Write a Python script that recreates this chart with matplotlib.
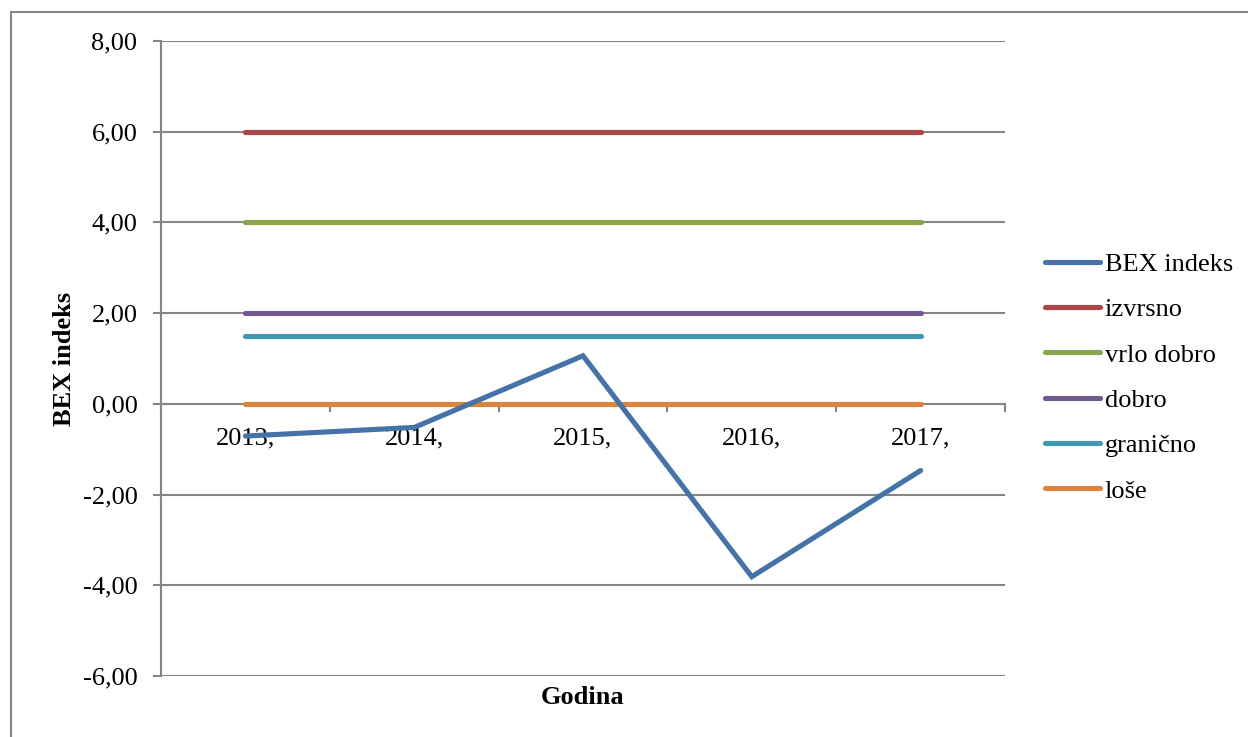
import matplotlib
matplotlib.use("Agg")
import matplotlib.pyplot as plt
from matplotlib.patches import Rectangle
import numpy as np

years = ["2013,", "2014,", "2015,", "2016,", "2017,"]
bex = [-0.71, -0.52, 1.06, -3.81, -1.47]
izvrsno = [6, 6, 6, 6, 6]
vrlo_dobro = [4, 4, 4, 4, 4]
dobro = [2, 2, 2, 2, 2]
granicno = [1.5, 1.5, 1.5, 1.5, 1.5]
lose = [0, 0, 0, 0, 0]

series = [
    ("BEX indeks", bex, "#4572A7"),
    ("izvrsno", izvrsno, "#AA4643"),
    ("vrlo dobro", vrlo_dobro, "#89A54E"),
    ("dobro", dobro, "#71588F"),
    ("granično", granicno, "#4198AF"),
    ("loše", lose, "#DB843D"),
]

plt.rcParams['font.family'] = ['Liberation Serif', 'DejaVu Serif']
FS = 19
GRAY = "#868686"
LW = 3.7

fig = plt.figure(figsize=(12.48, 7.37), dpi=100)
W, H = 1248, 737
ax = fig.add_axes([161 / W, 1 - 676 / H, (1005 - 161) / W, (676 - 41) / H])

x = np.arange(len(years))
for name, vals, col in series[1:]:
    ax.plot(x, vals, color=col, lw=LW, solid_capstyle='round', label=name, zorder=3)
ax.plot(x, bex, color=series[0][2], lw=LW, solid_capstyle='round',
        solid_joinstyle='miter', label=series[0][0], zorder=4)

ax.set_xlim(-0.5, len(years) - 0.5)
ax.set_ylim(-6, 8)
yt = np.arange(-6, 9, 2)
ax.set_yticks(yt)
ax.set_yticklabels([f"{v:.2f}".replace(".", ",") for v in yt], fontsize=FS)
ax.yaxis.grid(True, color=GRAY, lw=1.5)
ax.set_axisbelow(True)

for s in ["top", "right"]:
    ax.spines[s].set_visible(False)
ax.spines["left"].set_color(GRAY)
ax.spines["left"].set_linewidth(1.5)
ax.spines["bottom"].set_position(("data", 0))
ax.spines["bottom"].set_color(GRAY)
ax.spines["bottom"].set_linewidth(1.5)
ax.spines["bottom"].set_zorder(2)

ax.tick_params(axis="y", direction="out", length=6, width=1.5, color=GRAY, pad=11)
ax.set_xticks(x)
ax.set_xticklabels(years, fontsize=FS)
ax.set_xticks(np.arange(-0.5, len(years), 1), minor=True)
ax.tick_params(axis="x", which="major", length=0, pad=17)
ax.tick_params(axis="x", which="minor", direction="out", length=6, width=1.5, color=GRAY)

ax.set_ylabel("BEX indeks", fontsize=FS, fontweight="bold", labelpad=5)
fig.text(583 / W, 1 - 697 / H, "Godina", fontsize=FS, fontweight="bold",
         ha="center", va="center")

handles, labels = ax.get_legend_handles_labels()
order = [labels.index(n) for n, _, _ in series]
leg = fig.legend([handles[i] for i in order], [labels[i] for i in order],
                 loc="center left", bbox_to_anchor=(1045 / W, 1 - 377.5 / H),
                 frameon=False, fontsize=FS, handlelength=2.08, handletextpad=0.19,
                 labelspacing=0.83, borderpad=0, borderaxespad=0)

fig.patches.append(Rectangle((11 / W, -0.1), 2, 1.1 - 11.5 / H, transform=fig.transFigure,
                             fill=False, edgecolor=GRAY, lw=1.5))

fig.savefig("out.png", dpi=100)
